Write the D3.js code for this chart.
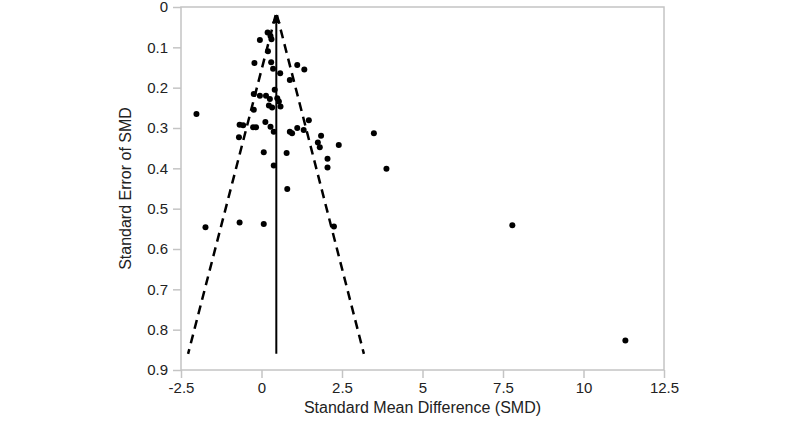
<!DOCTYPE html>
<meta charset="utf-8">
<style>
  body { margin: 0; background: #fff; }
  text { font-family: "Liberation Sans", Arial, sans-serif; fill: #222; }
  .axis path, .axis line { stroke: #c4c4c4; stroke-width: 1.5px; }
  .axis text { font-size: 15px; }
  .frame { fill: none; stroke: #c4c4c4; stroke-width: 1.5px; }
</style>
<svg width="800" height="421"></svg>
<script src="https://d3js.org/d3.v7.min.js"></script>
<script>
  // study estimates: SMD and its standard error
  var smd = [0.19, 0.28, 0.31, -0.05, 0.20, -0.22, 0.30, 0.36, 0.58, 1.11,
    1.33, 0.88, 0.41, -0.24, -0.05, 0.14, 0.26, 0.49, 0.54, 0.59,
    0.23, 0.33, -0.24, -2.02, 1.47, 0.12, -0.68, -0.57, -0.26, -0.17,
    0.28, 0.38, 0.88, 0.95, 1.11, 1.31, 1.85, 3.49, -0.70, 1.75,
    1.81, 2.40, 0.07, 0.78, 2.05, 2.05, 3.88, 0.38, 0.80, -1.74,
    -0.68, 0.07, 2.25, 7.79, 11.3];
  var se = [0.063, 0.072, 0.080, 0.082, 0.110, 0.139, 0.137, 0.153, 0.164, 0.144,
    0.155, 0.181, 0.205, 0.216, 0.220, 0.220, 0.228, 0.226, 0.234, 0.247,
    0.244, 0.249, 0.255, 0.265, 0.281, 0.285, 0.292, 0.293, 0.298, 0.298,
    0.297, 0.309, 0.309, 0.313, 0.300, 0.305, 0.319, 0.313, 0.323, 0.336,
    0.348, 0.342, 0.360, 0.362, 0.376, 0.398, 0.401, 0.393, 0.451, 0.546,
    0.534, 0.538, 0.544, 0.541, 0.827];

  var pooled = [[0.46, 0.86], [0.46, 0.02]];
  var funnelLeft = [[0.44, 0.02], [-2.28, 0.86]];
  var funnelRight = [[0.48, 0.02], [3.18, 0.86]];

  var xTicks = [-2.5, 0, 2.5, 5, 7.5, 10, 12.5];
  var yTicks = [0, 0.1, 0.2, 0.3, 0.4, 0.5, 0.6, 0.7, 0.8, 0.9];

  var svg = d3.select("svg");
  var plotL = 181, plotR = 664, plotT = 7, plotB = 370;

  var x = d3.scaleLinear().domain([-2.5, 12.5]).range([plotL, plotR]);
  var y = d3.scaleLinear().domain([0, 0.9]).range([plotT, plotB]);

  svg.append("rect").attr("class", "frame")
    .attr("x", plotL).attr("y", plotT)
    .attr("width", plotR - plotL).attr("height", plotB - plotT);

  svg.append("g").attr("class", "axis")
    .attr("transform", "translate(0," + plotB + ")")
    .call(d3.axisBottom(x).tickValues(xTicks).tickSize(8).tickPadding(4)
      .tickFormat(function(d) { return String(d); }))
    .call(function(g) { g.select(".domain").remove(); });

  svg.append("g").attr("class", "axis")
    .attr("transform", "translate(" + plotL + ",0)")
    .call(d3.axisLeft(y).tickValues(yTicks).tickSize(8).tickPadding(5)
      .tickFormat(function(d) { return d === 0 ? "0" : d.toFixed(1); }))
    .call(function(g) { g.select(".domain").remove(); });

  svg.append("defs").append("marker")
    .attr("id", "arrow")
    .attr("viewBox", "0 0 10 10")
    .attr("refX", 9).attr("refY", 5)
    .attr("markerWidth", 4.5).attr("markerHeight", 4.5)
    .attr("orient", "auto")
    .append("path").attr("d", "M0,0L10,5L0,10Z").attr("fill", "#000");

  var line = d3.line().x(function(d) { return x(d[0]); }).y(function(d) { return y(d[1]); });

  [funnelLeft, funnelRight].forEach(function(f) {
    svg.append("path").attr("d", line(f))
      .attr("fill", "none").attr("stroke", "#000")
      .attr("stroke-width", 2.5).attr("stroke-dasharray", "9,6");
  });

  svg.append("path").attr("d", line(pooled))
    .attr("fill", "none").attr("stroke", "#000").attr("stroke-width", 2)
    .attr("marker-end", "url(#arrow)");

  svg.append("g").selectAll("circle")
    .data(d3.range(smd.length))
    .enter().append("circle")
    .attr("cx", function(i) { return x(smd[i]); })
    .attr("cy", function(i) { return y(se[i]); })
    .attr("r", 3)
    .attr("fill", "#000");

  svg.append("text")
    .attr("x", (plotL + plotR) / 2).attr("y", 413)
    .attr("text-anchor", "middle").style("font-size", "16px")
    .text("Standard Mean Difference (SMD)");

  svg.append("text")
    .attr("transform", "translate(131," + (plotT + plotB) / 2 + ") rotate(-90)")
    .attr("text-anchor", "middle").style("font-size", "16px")
    .text("Standard Error of SMD");
</script>
